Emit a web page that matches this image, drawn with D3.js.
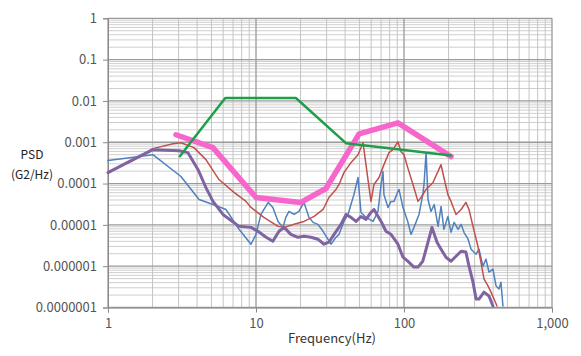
<!DOCTYPE html>
<html><head><meta charset="utf-8">
<script src="https://cdn.jsdelivr.net/npm/d3@7"></script>
<style>
html,body{margin:0;padding:0;background:#fff;}
svg{display:block;font-family:"Noto Sans CJK KR","Noto Sans",sans-serif;}
</style></head>
<body><svg id="c" width="581" height="356"></svg>
<script>
// ---- data ----
const xTickLabels = ["1", "10", "100", "1,000"];
const yTickLabels = ["1", "0.1", "0.01", "0.001", "0.0001", "0.00001", "0.000001", "0.0000001"];

const blueFreq = [1, 2.01, 3.11, 4.12, 5.12, 6.27, 7.68, 9.25, 10, 10.8,
  12.1, 13.0, 14.1, 15.2, 15.9, 16.7, 18.1, 19.5, 21.1, 22.8,
  24.3, 26.2, 28.4, 30.6, 32.1, 34.7, 36.4, 39.3, 41.9, 43.8,
  45.9, 48.9, 51.2, 55.4, 61.8, 66.7, 70, 72.1, 73.2, 78,
  81.7, 85.6, 91, 92.5, 98.4, 106, 111.5, 116.8, 126.3, 134,
  136.5, 141, 145.3, 152.2, 160, 170, 178, 186, 198, 207.8,
  218, 232, 243, 254.3, 271, 284, 307, 321.2, 341.8, 358,
  375.2, 399, 419, 438.5, 452, 466];
const blueVal = [3.6e-4, 5.0e-4, 1.48e-4, 4.1e-5, 3.1e-5, 2.36e-5, 7.8e-6, 3.4e-6, 5.9e-6, 1.79e-5,
  3.5e-5, 2.64e-5, 1.21e-5, 8.7e-6, 1.52e-5, 2.11e-5, 1.79e-5, 2.11e-5, 3.5e-5, 1.52e-5,
  1.15e-5, 1.03e-5, 7.0e-6, 4.5e-6, 3.4e-6, 5.0e-6, 5.9e-6, 1.21e-5, 1.79e-5, 3.1e-5,
  5.4e-5, 1.4e-4, 2.0e-5, 1.52e-5, 1.21e-5, 2.11e-5, 9.5e-5, 1.95e-4, 5.4e-5, 2.64e-5,
  3.7e-5, 3.7e-5, 6.4e-5, 7.2e-5, 2.64e-5, 1.21e-5, 5.9e-6, 8.7e-6, 1.79e-5, 5.4e-5,
  9.5e-5, 5.6e-4, 4.1e-5, 2.11e-5, 3.1e-5, 9.2e-6, 2.8e-5, 7.8e-6, 1.6e-5, 6.6e-6,
  1.15e-5, 7.8e-6, 1.03e-5, 6.6e-6, 4.5e-6, 2.57e-6, 1.95e-6, 2.57e-6, 1.0e-6, 1.48e-6,
  7.2e-7, 8.5e-7, 3.3e-7, 2.8e-7, 4.1e-7, 1.09e-7];

const redFreq = [1, 1.43, 2.01, 2.75, 3.11, 3.81, 4.59, 5.62, 7.0, 8.56,
  9.25, 11.3, 14.1, 15.5, 18.1, 21.1, 24.7, 28.4, 31.1, 34.7,
  36.4, 39.3, 43.8, 48.9, 52.9, 57.1, 59.8, 62.7, 67.8, 73.2,
  79.2, 84.3, 91, 95.5, 100, 106, 115, 124.3, 130.3, 141,
  157, 178, 186, 198, 207.8, 224.6, 243, 262, 274.9, 292.5,
  316, 331, 347, 370, 387, 405.6, 425];
const redVal = [1.95e-4, 3.4e-4, 7.0e-4, 9.2e-4, 9.7e-4, 7.4e-4, 3.8e-4, 1.25e-4, 6.4e-5, 3.7e-5,
  2.64e-5, 1.52e-5, 9.2e-6, 8.7e-6, 1.03e-5, 1.21e-5, 1.6e-5, 2.36e-5, 4.6e-5, 7.2e-5,
  9.5e-5, 1.84e-4, 3.2e-4, 5.0e-4, 9.7e-4, 1.25e-4, 3.7e-5, 9.5e-5, 1.4e-4, 2.87e-4,
  5.6e-4, 6.6e-4, 1.03e-3, 5.9e-4, 5.0e-4, 2.43e-4, 9.5e-5, 3.7e-5, 4.6e-5, 7.2e-5,
  1.06e-4, 2.87e-4, 1.4e-4, 5.4e-5, 3.7e-5, 1.79e-5, 2.36e-5, 3.5e-5, 2.36e-5, 9.2e-6,
  3.0e-6, 1.25e-6, 4.9e-7, 3.3e-7, 2.36e-7, 1.6e-7, 1.09e-7];

const purpleFreq = [1, 1.39, 2.01, 3.02, 3.47, 4.06, 4.59, 5.12, 5.98, 7.68,
  9.25, 10.3, 11.7, 13.0, 14.3, 15.5, 17.2, 19.2, 21.1, 23.5,
  26.2, 28.8, 31.1, 33.7, 37.5, 40.6, 43.8, 47.4, 51.2, 55.4,
  59.8, 62.7, 70, 75.5, 81.7, 91, 98.4, 106, 116.8, 124.3,
  134, 141, 154.6, 167.1, 178, 192, 207.8, 224.6, 243, 262,
  274.9, 292.5, 307, 321.2, 347, 375.2, 399];
const purpleVal = [1.84e-4, 3.4e-4, 6.6e-4, 6.2e-4, 5.6e-4, 2.17e-4, 8.0e-5, 3.7e-5, 1.79e-5, 9.2e-6,
  8.7e-6, 7.0e-6, 5.0e-6, 4.0e-6, 7.0e-6, 8.7e-6, 5.9e-6, 5.0e-6, 5.3e-6, 5.0e-6,
  4.5e-6, 3.4e-6, 3.8e-6, 5.9e-6, 1.03e-5, 1.79e-5, 1.52e-5, 1.21e-5, 1.6e-5, 1.36e-5,
  2.0e-5, 2.36e-5, 1.21e-5, 7.0e-6, 5.9e-6, 3.4e-6, 1.65e-6, 1.32e-6, 9.5e-7, 9.5e-7,
  1.32e-6, 2.57e-6, 8.7e-6, 3.8e-6, 2.57e-6, 1.65e-6, 1.32e-6, 1.74e-6, 2.3e-6, 2.2e-6,
  1.0e-6, 4.1e-7, 1.6e-7, 1.6e-7, 2.36e-7, 1.9e-7, 1.09e-7];

const pinkFreq = [2.88, 5.12, 10, 20.1, 29.7, 49.7, 91, 208];
const pinkVal = [1.52e-3, 7.4e-4, 4.6e-5, 3.5e-5, 7.6e-5, 1.6e-3, 2.95e-3, 4.5e-4];

const greenFreq = [3.06, 6.2, 18.6, 40.5, 208];
const greenVal = [4.6e-4, 0.0118, 0.0118, 9.5e-4, 4.8e-4];

// ---- drawing ----
const svg = d3.select("#c");
const x = d3.scaleLog().domain([1, 1000]).range([108, 552]);
const y = d3.scaleLog().domain([1e-7, 1]).range([307.5, 18.3]);

const minors = (lo, hi) => {
  const out = [];
  for (let e = lo; e < hi; e++) for (let m = 2; m <= 9; m++) out.push(m * Math.pow(10, e));
  return out;
};
const xMinor = minors(0, 3);
const yMinor = minors(-7, 0);
const xMajor = [1, 10, 100, 1000];
const yMajor = [1e-7, 1e-6, 1e-5, 1e-4, 1e-3, 1e-2, 1e-1, 1];

const g = svg.append("g");
g.selectAll(".hm").data(yMinor).join("line")
  .attr("x1", x(1)).attr("x2", x(1000))
  .attr("y1", d => y(d)).attr("y2", d => y(d))
  .attr("stroke", "#cfcfcf").attr("stroke-width", 1);
g.selectAll(".vm").data(xMinor).join("line")
  .attr("y1", y(1)).attr("y2", y(1e-7))
  .attr("x1", d => x(d)).attr("x2", d => x(d))
  .attr("stroke", "#c4c4c4").attr("stroke-width", 1);
g.selectAll(".hM").data(yMajor).join("line")
  .attr("x1", x(1)).attr("x2", x(1000))
  .attr("y1", d => y(d)).attr("y2", d => y(d))
  .attr("stroke", "#9a9a9a").attr("stroke-width", 1.3);
g.selectAll(".vM").data(xMajor).join("line")
  .attr("y1", y(1)).attr("y2", y(1e-7))
  .attr("x1", d => x(d)).attr("x2", d => x(d))
  .attr("stroke", "#9a9a9a").attr("stroke-width", 1.3);

// axes
const yAxis = d3.axisLeft(y).tickValues(yMajor).tickSize(5)
  .tickFormat((d, i) => yTickLabels[yMajor.length - 1 - i]);
const ya = svg.append("g").attr("transform", `translate(${x(1)},0)`).call(yAxis);
ya.select(".domain").attr("stroke", "#8a8a8a");
ya.selectAll(".tick line").attr("stroke", "#8a8a8a");
ya.selectAll(".tick text").attr("fill", "#555").attr("font-size", 13).attr("x", -11)
  .attr("font-family", "'Noto Sans CJK KR','Noto Sans',sans-serif");

const xAxis = d3.axisBottom(x).tickValues(xMajor).tickSize(5)
  .tickFormat((d, i) => xTickLabels[i]);
const xa = svg.append("g").attr("transform", `translate(0,${y(1e-7)})`).call(xAxis);
xa.select(".domain").attr("stroke", "#8a8a8a");
xa.selectAll(".tick line").attr("stroke", "#8a8a8a");
xa.selectAll(".tick text").attr("fill", "#555").attr("font-size", 13).attr("y", 11)
  .attr("font-family", "'Noto Sans CJK KR','Noto Sans',sans-serif");

// series
const line = d3.line().x(d => x(d[0])).y(d => y(d[1]));
const zip = (a, b) => a.map((v, i) => [v, b[i]]);
const series = [
  {f: blueFreq, v: blueVal, c: "#4f81bd", w: 1.5},
  {f: redFreq, v: redVal, c: "#c0504d", w: 1.5},
  {f: purpleFreq, v: purpleVal, c: "#8064a2", w: 3},
  {f: pinkFreq, v: pinkVal, c: "#f766cb", w: 5.5},
  {f: greenFreq, v: greenVal, c: "#1f9e48", w: 2.5}
];
series.forEach(s => {
  svg.append("path").datum(zip(s.f, s.v)).attr("d", line)
    .attr("fill", "none").attr("stroke", s.c).attr("stroke-width", s.w)
    .attr("stroke-linejoin", "round").attr("stroke-linecap", "round");
});

// labels
svg.append("text").attr("x", 332).attr("y", 343).attr("text-anchor", "middle")
  .attr("font-size", 13).attr("fill", "#333").text("Frequency(Hz)");
svg.append("text").attr("x", 32).attr("y", 159).attr("text-anchor", "middle")
  .attr("font-size", 12).attr("fill", "#222").text("PSD");
svg.append("text").attr("x", 32).attr("y", 179).attr("text-anchor", "middle")
  .attr("font-size", 12).attr("fill", "#222").text("(G2/Hz)");
</script></body></html>
